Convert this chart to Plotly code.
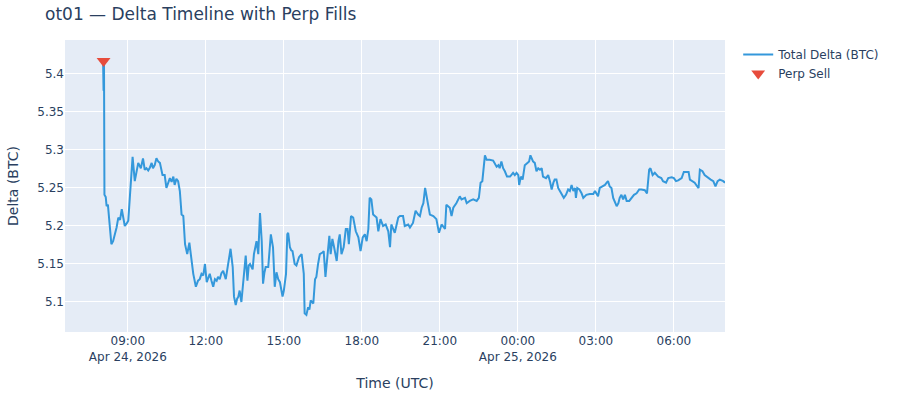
import pandas as pd
import plotly.graph_objects as go

day1_times = [
    "08:03", "08:04", "08:05", "08:06", "08:09", "08:11", "08:14", "08:18", "08:22", "08:26",
    "08:30", "08:34", "08:38", "08:42", "08:46", "08:50", "08:53", "08:57", "09:01", "09:05",
    "09:11", "09:16", "09:20", "09:24", "09:30", "09:35", "09:39", "09:43", "09:47", "09:51",
    "09:55", "09:58", "10:02", "10:06", "10:10", "10:14", "10:20", "10:25", "10:29", "10:33",
    "10:37", "10:41", "10:45", "10:48", "10:52", "10:56", "11:00", "11:04", "11:08", "11:12",
    "11:17", "11:22", "11:27", "11:31", "11:37", "11:42", "11:46", "11:50", "11:54", "11:58",
    "12:02", "12:06", "12:09", "12:13", "12:17", "12:21", "12:25", "12:28", "12:32", "12:36",
    "12:40", "12:46", "12:52", "12:57", "13:02", "13:05", "13:09", "13:12", "13:15", "13:18",
    "13:22", "13:25", "13:28", "13:32", "13:36", "13:39", "13:42", "13:48", "13:51", "13:57",
    "14:01", "14:05", "14:09", "14:12", "14:15", "14:18", "14:24", "14:27", "14:30", "14:35",
    "14:39", "14:43", "14:47", "14:51", "14:57", "15:00", "15:05", "15:08", "15:10", "15:14",
    "15:17", "15:20", "15:25", "15:29", "15:35", "15:41", "15:46", "15:48", "15:52", "15:56",
    "15:59", "16:02", "16:08", "16:12", "16:15", "16:19", "16:23", "16:29", "16:32", "16:36",
    "16:40", "16:45", "16:48", "16:52", "16:56", "17:02", "17:06", "17:09", "17:13", "17:18",
    "17:23", "17:27", "17:30", "17:35", "17:40", "17:46", "17:52", "17:57", "18:02", "18:07",
    "18:11", "18:15", "18:18", "18:22", "18:26", "18:34", "18:38", "18:43", "18:49", "18:55",
    "19:01", "19:05", "19:08", "19:16", "19:24", "19:28", "19:35", "19:39", "19:47", "19:51",
    "19:58", "20:04", "20:10", "20:14", "20:18", "20:22", "20:26", "20:31", "20:37", "20:45",
    "20:52", "20:58", "21:04", "21:12", "21:15", "21:23", "21:27", "21:31", "21:38", "21:46",
    "21:50", "21:58", "22:02", "22:09", "22:17", "22:25", "22:30", "22:34", "22:38", "22:44",
    "22:48", "22:55", "23:03", "23:11", "23:15", "23:18", "23:22", "23:26", "23:30", "23:35",
    "23:42", "23:49", "23:53", "23:57",
]
day1_delta = [
    5.412, 5.378, 5.415, 5.241, 5.238, 5.226, 5.228, 5.198, 5.176, 5.180,
    5.189, 5.198, 5.211, 5.208, 5.222, 5.210, 5.200, 5.203, 5.207, 5.241,
    5.291, 5.259, 5.270, 5.283, 5.276, 5.289, 5.274, 5.276, 5.273, 5.277,
    5.283, 5.276, 5.280, 5.289, 5.285, 5.283, 5.267, 5.267, 5.250, 5.258,
    5.263, 5.258, 5.265, 5.254, 5.262, 5.259, 5.246, 5.215, 5.213, 5.176,
    5.163, 5.178, 5.154, 5.137, 5.120, 5.128, 5.130, 5.137, 5.135, 5.150,
    5.126, 5.132, 5.137, 5.128, 5.120, 5.130, 5.128, 5.133, 5.130, 5.138,
    5.141, 5.130, 5.154, 5.170, 5.146, 5.107, 5.096, 5.104, 5.107, 5.115,
    5.100, 5.120, 5.141, 5.161, 5.128, 5.148, 5.150, 5.143, 5.163, 5.180,
    5.163, 5.217, 5.180, 5.124, 5.138, 5.146, 5.146, 5.165, 5.189, 5.172,
    5.120, 5.139, 5.130, 5.126, 5.107, 5.115, 5.137, 5.189, 5.191, 5.172,
    5.168, 5.167, 5.150, 5.148, 5.159, 5.163, 5.137, 5.085, 5.083, 5.093,
    5.090, 5.102, 5.098, 5.130, 5.133, 5.150, 5.163, 5.165, 5.167, 5.133,
    5.154, 5.187, 5.163, 5.183, 5.172, 5.154, 5.180, 5.189, 5.163, 5.172,
    5.196, 5.196, 5.176, 5.213, 5.211, 5.193, 5.185, 5.167, 5.185, 5.189,
    5.180, 5.196, 5.237, 5.235, 5.215, 5.211, 5.193, 5.209, 5.200, 5.202,
    5.193, 5.172, 5.202, 5.191, 5.211, 5.213, 5.213, 5.200, 5.202, 5.198,
    5.204, 5.220, 5.215, 5.213, 5.224, 5.230, 5.250, 5.233, 5.215, 5.213,
    5.209, 5.191, 5.202, 5.196, 5.228, 5.224, 5.213, 5.224, 5.230, 5.239,
    5.235, 5.237, 5.230, 5.233, 5.235, 5.233, 5.237, 5.257, 5.259, 5.293,
    5.287, 5.287, 5.286, 5.278, 5.280, 5.276, 5.285, 5.276, 5.272, 5.265,
    5.265, 5.270, 5.267, 5.270,
]
day2_times = [
    "00:01", "00:03", "00:07", "00:11", "00:16", "00:22", "00:26", "00:29", "00:35", "00:39",
    "00:43", "00:47", "00:51", "00:55", "00:58", "01:05", "01:10", "01:14", "01:18", "01:22",
    "01:25", "01:29", "01:33", "01:37", "01:43", "01:46", "01:51", "01:56", "02:00", "02:04",
    "02:08", "02:12", "02:14", "02:17", "02:22", "02:27", "02:31", "02:35", "02:38", "02:46",
    "02:54", "02:58", "03:02", "03:05", "03:09", "03:17", "03:21", "03:25", "03:28", "03:32",
    "03:36", "03:40", "03:44", "03:48", "03:52", "03:55", "03:59", "04:03", "04:07", "04:11",
    "04:17", "04:22", "04:28", "04:34", "04:40", "04:45", "04:53", "04:58", "05:03", "05:06",
    "05:11", "05:16", "05:24", "05:31", "05:35", "05:42", "05:47", "05:55", "06:00", "06:05",
    "06:10", "06:18", "06:23", "06:29", "06:34", "06:37", "06:43", "06:48", "06:54", "06:57",
    "07:00", "07:06", "07:11", "07:19", "07:25", "07:31", "07:36", "07:41", "07:46", "07:54",
    "07:58",
]
day2_delta = [
    5.267, 5.254, 5.265, 5.261, 5.280, 5.283, 5.285, 5.293, 5.285, 5.283,
    5.272, 5.276, 5.274, 5.276, 5.265, 5.263, 5.267, 5.259, 5.248, 5.257,
    5.261, 5.261, 5.250, 5.246, 5.241, 5.237, 5.241, 5.248, 5.246, 5.254,
    5.246, 5.250, 5.237, 5.250, 5.248, 5.243, 5.237, 5.239, 5.241, 5.242,
    5.242, 5.246, 5.242, 5.239, 5.250, 5.252, 5.254, 5.257, 5.259, 5.252,
    5.250, 5.237, 5.230, 5.226, 5.230, 5.237, 5.241, 5.235, 5.241, 5.233,
    5.233, 5.237, 5.241, 5.243, 5.248, 5.248, 5.247, 5.243, 5.274, 5.276,
    5.267, 5.270, 5.265, 5.263, 5.259, 5.257, 5.263, 5.264, 5.263, 5.259,
    5.260, 5.263, 5.271, 5.271, 5.271, 5.261, 5.259, 5.257, 5.252, 5.250,
    5.274, 5.272, 5.267, 5.263, 5.261, 5.259, 5.252, 5.259, 5.261, 5.259,
    5.257,
]

# Perp fills (only one sell in this window).
sell_times = ["2026-04-24 08:04"]
sell_delta = [5.417]

times = pd.to_datetime(["2026-04-24 " + t for t in day1_times] +
                       ["2026-04-25 " + t for t in day2_times])
delta = day1_delta + day2_delta

fig = go.Figure()

fig.add_trace(go.Scatter(
    x=times,
    y=delta,
    mode='lines',
    name='Total Delta (BTC)',
    line=dict(color='#3498db', width=2)
))

fig.add_trace(go.Scatter(
    x=pd.to_datetime(sell_times),
    y=sell_delta,
    mode='markers',
    name='Perp Sell',
    marker=dict(symbol='triangle-down', size=12, color='#e74c3c')
))

fig.update_layout(
    title=dict(text="ot01 — Delta Timeline with Perp Fills",
               x=0.05, y=0.964, yanchor='middle'),
    font=dict(family="DejaVu Sans"),
    width=900,
    height=400,
    margin=dict(l=65, r=175, t=40, b=68),
    xaxis=dict(title='Time (UTC)', type='date',
               range=['2026-04-24 06:35', '2026-04-25 07:58']),
    yaxis=dict(title='Delta (BTC)', range=[5.0605, 5.4447]),
)

# drop the default 8px body margin so the figure sits at the page corner
fig.write_html("out.html", config={'displayModeBar': False},
               post_script="document.body.style.margin = '0';")
